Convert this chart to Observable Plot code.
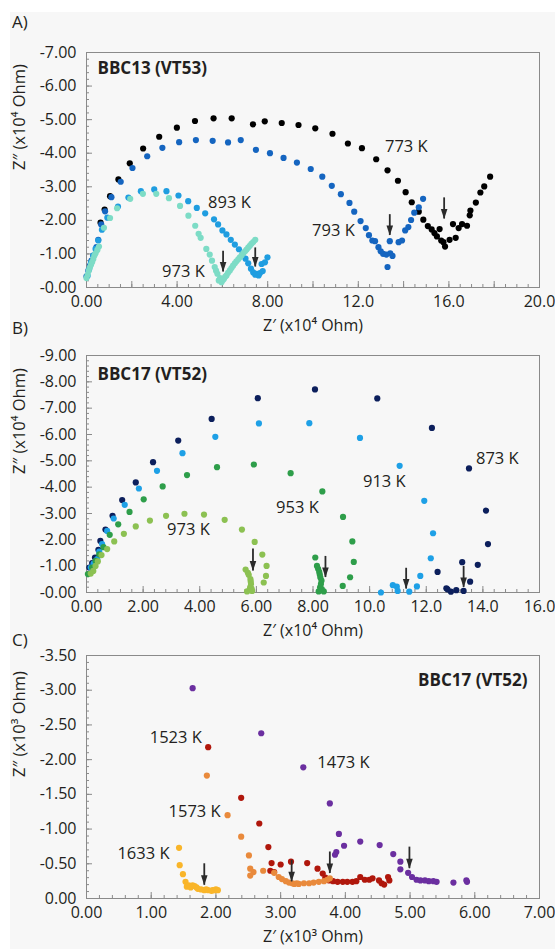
<!DOCTYPE html>
<html><head><meta charset="utf-8">
<script src="https://cdn.jsdelivr.net/npm/d3@7"></script>
<script src="https://cdn.jsdelivr.net/npm/@observablehq/plot@0.6"></script>
<style>
body{margin:0;background:#fff;}
#root{position:relative;width:555px;height:949px;overflow:hidden;font-family:'Open Sans',sans-serif;color:#231f20;}
#bg{position:absolute;left:10px;top:12px;right:0;bottom:0;background:#f7f7f7;}
.pl{position:absolute;left:0;}
.lab{position:absolute;left:12px;font-size:17px;line-height:18px;}
</style></head><body><div id="root"><div id="bg"></div></div>
<script>
// ---------- Panel A: BBC13 (VT53), Z' and -Z'' in x10^4 Ohm ----------
const A_773K = [[0.62,1.93],[0.8,2.32],[1.04,2.72],[1.41,3.22],[1.91,3.70],[2.50,4.14],[3.21,4.49],[3.99,4.76],[4.79,4.96],[5.61,5.04],[6.41,5.04],[7.35,4.86],[7.87,4.95],[8.62,4.90],[9.36,4.84],[10.10,4.74],[10.86,4.58],[11.54,4.29],[12.16,4.15],[12.79,3.82],[13.29,3.49],[13.75,3.18],[14.09,2.84],[14.36,2.54],[14.67,2.26],[14.87,2.02],[15.07,1.83],[15.24,1.73],[15.36,1.62],[15.47,1.52],[15.59,1.74],[15.66,1.40],[15.76,1.35],[15.83,1.22],[16.03,1.42],[16.30,1.48],[16.18,1.89],[16.43,1.77],[16.58,1.89],[16.80,1.84],[16.92,2.15],[16.95,2.29],[17.19,2.53],[17.39,2.83],[17.56,3.01],[17.82,3.30]];
const A_793K = [[0.0,0.33],[0.08,0.5],[0.15,0.65],[0.22,0.8],[0.30,0.95],[0.44,1.20],[0.52,1.42],[0.65,1.88],[0.82,2.27],[1.10,2.69],[1.51,3.15],[2.03,3.56],[2.68,3.91],[3.35,4.16],[4.09,4.33],[4.83,4.39],[5.57,4.37],[6.25,4.32],[6.81,4.39],[7.48,4.10],[8.10,4.00],[8.70,3.86],[9.29,3.72],[9.90,3.53],[10.41,3.30],[10.83,3.03],[11.23,2.78],[11.61,2.52],[11.82,2.26],[12.10,1.98],[12.33,1.77],[12.47,1.56],[12.62,1.40],[12.74,1.38],[12.89,1.20],[12.99,1.08],[13.10,1.00],[13.24,0.98],[13.41,1.02],[13.51,0.94],[13.29,0.61],[13.39,1.38],[13.78,1.35],[13.93,1.40],[14.07,1.70],[14.21,1.80],[14.33,2.01],[14.47,2.23],[14.67,2.39],[14.86,2.64]];
const A_893K = [[0.05,0.35],[0.12,0.55],[0.2,0.75],[0.3,0.95],[0.4,1.15],[0.52,1.4],[0.68,1.72],[0.92,2.08],[1.39,2.41],[1.85,2.68],[2.40,2.87],[2.99,2.92],[3.53,2.87],[4.06,2.74],[4.49,2.57],[4.87,2.37],[5.24,2.21],[5.63,2.03],[5.81,1.88],[6.00,1.70],[6.18,1.58],[6.37,1.42],[6.55,1.28],[6.73,1.14],[6.89,1.00],[7.02,0.86],[7.14,0.72],[7.26,0.56],[7.36,0.45],[7.45,0.38],[7.51,0.41],[7.60,0.36],[7.66,0.43],[7.78,0.49],[7.73,0.70],[7.88,0.75],[7.99,0.90]];
const A_973K = [[0.0,0.28],[0.05,0.38],[0.1,0.5],[0.15,0.6],[0.2,0.68],[0.25,0.76],[0.3,0.85],[0.35,0.95],[0.4,1.02],[0.48,1.12],[0.55,1.22],[0.77,1.78],[1.04,2.07],[1.35,2.36],[1.93,2.64],[2.49,2.79],[3.08,2.79],[3.64,2.66],[4.13,2.43],[4.50,2.14],[4.80,1.84],[4.95,1.60],[5.04,1.48],[5.29,1.15],[5.44,0.98],[5.54,0.80],[5.66,0.61],[5.72,0.5],[5.78,0.41],[5.84,0.21],[5.90,0.28],[5.96,0.16],[6.02,0.22],[6.07,0.26],[6.12,0.32],[6.18,0.36],[6.25,0.44],[6.33,0.51],[6.40,0.58],[6.47,0.65],[6.55,0.72],[6.62,0.78],[6.70,0.84],[6.77,0.90],[6.85,0.96],[6.92,1.02],[7.0,1.08],[7.07,1.13],[7.14,1.19],[7.21,1.24],[7.28,1.30],[7.36,1.35],[7.45,1.42]];
const A_arrows = [[6.03,1.08,0.46],[7.45,1.18,0.61],[13.39,2.17,1.55],[15.79,2.67,2.04]]; // x, top, tip
const A_labels = [{x:14.12,y:4.18,t:"773 K"},{x:6.31,y:2.54,t:"893 K"},{x:4.28,y:0.48,t:"973 K"},{x:10.9,y:1.70,t:"793 K"}];
const A_xTicks = [0,4,8,12,16,20];
const A_yTicks = [0,1,2,3,4,5,6,7];

// ---------- Panel B: BBC17 (VT52), x10^4 Ohm ----------
const B_873K = [[0.1,0.95],[0.2,1.12],[0.3,1.33],[0.42,1.62],[0.49,1.96],[0.67,2.39],[0.92,2.91],[1.26,3.51],[1.74,4.18],[2.35,4.95],[3.24,5.77],[4.42,6.59],[6.05,7.38],[8.07,7.71],[10.27,7.37],[12.20,6.25],[13.51,4.71],[14.11,3.11],[14.18,1.84],[13.82,1.05],[13.55,0.41],[13.27,1.15],[13.32,0.06],[13.06,0.09],[12.87,0.03],[12.75,0.12],[12.71,0.16],[12.40,0.78]];
const B_913K = [[0.15,0.95],[0.25,1.1],[0.38,1.27],[0.45,1.55],[0.55,1.84],[0.73,2.34],[0.96,2.81],[1.35,3.33],[1.85,3.95],[2.49,4.62],[3.39,5.29],[4.55,5.91],[6.09,6.42],[7.87,6.43],[9.66,5.87],[11.06,4.81],[11.93,3.48],[12.24,2.25],[12.16,1.30],[11.79,0.63],[11.67,0.23],[11.40,0.03],[10.96,0.22],[10.82,0.28],[10.99,0.06],[10.40,0.00]];
const B_953K = [[0.05,0.70],[0.2,0.95],[0.32,1.2],[0.45,1.45],[0.6,1.72],[0.82,2.19],[1.12,2.59],[1.52,3.06],[2.02,3.54],[2.69,4.03],[3.55,4.46],[4.61,4.76],[5.91,4.86],[7.21,4.53],[8.33,3.84],[9.06,2.87],[9.39,1.94],[9.44,1.16],[9.31,0.58],[9.05,0.25],[8.08,1.33],[8.14,1.01],[8.18,0.9],[8.22,0.78],[8.24,0.68],[8.26,0.57],[8.3,0.45],[8.28,0.32],[8.25,0.2],[8.31,0.13],[8.38,0.04],[8.20,0.04]];
const B_973K = [[0.15,0.72],[0.24,0.82],[0.32,1.01],[0.40,1.18],[0.53,1.42],[0.73,1.65],[0.98,1.94],[1.32,2.23],[1.74,2.51],[2.24,2.73],[2.81,2.91],[3.46,2.99],[4.15,2.96],[4.88,2.76],[5.49,2.39],[5.94,1.92],[6.21,1.44],[6.36,1.01],[6.34,0.63],[6.26,0.38],[5.62,0.87],[5.70,0.75],[5.73,0.67],[5.79,0.51],[5.80,0.42],[5.81,0.32],[5.78,0.2],[5.83,0.15],[5.76,0.09],[5.67,0.04],[5.85,0.06]];
const B_arrows = [[5.88,1.65,0.82],[8.44,1.37,0.57],[11.29,0.92,0.13],[13.32,0.99,0.19]];
const B_labels = [{x:14.51,y:5.09,t:"873 K"},{x:10.52,y:4.20,t:"913 K"},{x:7.45,y:3.23,t:"953 K"},{x:3.60,y:2.37,t:"973 K"}];
const B_xTicks = [0,2,4,6,8,10,12,14,16];
const B_yTicks = [0,1,2,3,4,5,6,7,8,9];

// ---------- Panel C: BBC17 (VT52), x10^3 Ohm ----------
const C_1473K = [[1.64,3.03],[2.70,2.38],[3.35,1.89],[3.76,1.37],[3.90,0.93],[3.98,0.76],[3.86,0.67],[3.84,0.63],[4.23,0.82],[4.53,0.77],[4.74,0.64],[4.85,0.53],[4.85,0.42],[4.97,0.37],[5.03,0.31],[5.10,0.27],[5.16,0.26],[5.23,0.26],[5.29,0.25],[5.36,0.25],[5.41,0.24],[5.67,0.23],[5.87,0.26],[5.88,0.24]];
const C_1523K = [[1.88,2.18],[2.39,1.45],[2.67,1.08],[2.81,0.74],[2.86,0.51],[3.00,0.49],[3.16,0.53],[2.84,0.40],[2.90,0.38],[3.41,0.51],[3.57,0.43],[3.65,0.36],[3.69,0.30],[3.75,0.26],[3.81,0.25],[3.88,0.24],[3.96,0.24],[4.03,0.24],[4.11,0.24],[4.17,0.25],[4.23,0.31],[4.30,0.27],[4.37,0.27],[4.42,0.29],[4.52,0.26],[4.56,0.22],[4.60,0.20],[4.66,0.31],[4.68,0.26]];
const C_1573K = [[1.86,1.77],[2.18,1.20],[2.39,0.89],[2.51,0.62],[2.53,0.43],[2.58,0.38],[2.53,0.33],[2.73,0.40],[2.90,0.37],[2.97,0.31],[3.02,0.28],[3.08,0.25],[3.13,0.23],[3.18,0.22],[3.21,0.21],[3.25,0.22],[3.28,0.21],[3.36,0.22],[3.44,0.22],[3.51,0.23],[3.59,0.24],[3.67,0.25],[3.72,0.27],[3.76,0.29]];
const C_1633K = [[1.43,0.73],[1.44,0.48],[1.49,0.35],[1.53,0.24],[1.55,0.17],[1.58,0.19],[1.61,0.16],[1.64,0.19],[1.67,0.18],[1.70,0.16],[1.72,0.14],[1.77,0.13],[1.82,0.12],[1.85,0.13],[1.88,0.12],[1.93,0.11],[1.95,0.12],[1.98,0.12],[2.0,0.13],[2.03,0.12]];
const C_arrows = [[1.82,0.50,0.19],[3.17,0.55,0.24],[3.76,0.67,0.36],[4.99,0.74,0.43]];
const C_labels = [{x:1.38,y:2.32,t:"1523 K"},{x:1.67,y:1.25,t:"1573 K"},{x:0.88,y:0.65,t:"1633 K"},{x:3.97,y:1.95,t:"1473 K"}];
const C_xTicks = [0,1,2,3,4,5,6,7];
const C_yTicks = [0,0.5,1,1.5,2,2.5,3,3.5];

const FONT = "'Open Sans', sans-serif";
const INK = "#231f20";
const FRAME = "#8a8a8a";
const ARROW = "#2b2b2b";
const headSymbol = {draw(c){ c.moveTo(0,0); c.lineTo(-3.3,-10); c.lineTo(3.3,-10); c.closePath(); }};

function panel(o){
  const W = 555, ml = 86, mr = 16;
  const H = o.height - o.mt - o.mb, FW = W - ml - mr;
  const marks = [
    Plot.frame({stroke: FRAME}),
    Plot.tickX(d3.range(o.xDomain[0], o.xDomain[1] + 1e-9, o.xMinor), {x: d => d, insetTop: H - 3, stroke: FRAME}),
    Plot.tickX(d3.range(o.xDomain[0], o.xDomain[1] + 1e-9, o.xMajor), {x: d => d, insetTop: H - 6, stroke: FRAME}),
    Plot.tickY(d3.range(o.yDomain[0], o.yDomain[1] + 1e-9, o.yMinor), {y: d => d, insetRight: FW - 3, stroke: FRAME}),
    Plot.tickY(d3.range(o.yDomain[0], o.yDomain[1] + 1e-9, o.yMajor), {y: d => d, insetRight: FW - 6, stroke: FRAME}),
    ...o.series.map(s => Plot.dot(s.data, {x: d => d[0], y: d => d[1], r: 3.1, fill: s.color})),
    Plot.ruleX(o.arrows, {x: d => d[0], y1: d => d[1], y2: d => d[2], stroke: ARROW, strokeWidth: 1.8}),
    Plot.dot(o.arrows, {x: d => d[0], y: d => d[2], symbol: headSymbol, fill: ARROW, stroke: "none"}),
    Plot.text(o.labels, {x: "x", y: "y", text: "t", fontSize: 16.5, fill: INK}),
    Plot.text([o.title], {text: d => d, frameAnchor: o.titleRight ? "top-right" : "top-left", textAnchor: o.titleRight ? "end" : "start", lineAnchor: "middle", dx: o.titleRight ? -12 : 11, dy: o.titleDy, fontWeight: "bold", fontSize: 17, fill: INK}),
    Plot.text([o.xTitle], {text: d => d, frameAnchor: "bottom", dy: 43, fontSize: 16, fill: INK}),
    Plot.text([o.yTitle], {text: d => d, frameAnchor: "left", dx: -67, rotate: -90, fontSize: 16.5, fill: INK})
  ];
  const svg = Plot.plot({
    width: W, height: o.height, marginLeft: ml, marginRight: mr, marginTop: o.mt, marginBottom: o.mb,
    style: {background: "transparent", fontFamily: FONT, fontSize: "16px", color: INK, overflow: "visible"},
    x: {domain: o.xDomain, ticks: o.xTicks, tickFormat: o.xFmt, tickSize: 0, tickPadding: 8, label: null},
    y: {domain: o.yDomain, ticks: o.yTicks, tickFormat: o.yFmt, tickSize: 0, tickPadding: 10, label: null},
    marks
  });
  svg.classList.add("pl");
  svg.style.top = o.top + "px";
  document.getElementById("root").appendChild(svg);
}

const fmtBig = d => d < 10 ? d.toFixed(2) : d.toFixed(1);
const fmtNeg = d => "-" + d.toFixed(2);

panel({top: 0, height: 340, mt: 52, mb: 53, xDomain: [0, 20], yDomain: [0, 7],
  xTicks: A_xTicks, yTicks: A_yTicks, xFmt: fmtBig, yFmt: fmtNeg,
  xMajor: 2, xMinor: 0.5, yMajor: 1, yMinor: 0.2,
  series: [{data: A_773K, color: "#000000"}, {data: A_793K, color: "#1565c0"}, {data: A_893K, color: "#1f9de0"}, {data: A_973K, color: "#7ddcc6"}],
  arrows: A_arrows, labels: A_labels, title: "BBC13 (VT53)", titleRight: false, titleDy: 16,
  xTitle: "Z\u2032 (x10\u2074 Ohm)", yTitle: "Z\u2033 (x10\u2074 Ohm)"});

panel({top: 340, height: 305, mt: 15, mb: 53, xDomain: [0, 16], yDomain: [0, 9],
  xTicks: B_xTicks, yTicks: B_yTicks, xFmt: fmtBig, yFmt: fmtNeg,
  xMajor: 2, xMinor: 0.4, yMajor: 1, yMinor: 0.2,
  series: [{data: B_873K, color: "#0c1f5c"}, {data: B_913K, color: "#1ea0e6"}, {data: B_953K, color: "#2e9e4a"}, {data: B_973K, color: "#8cc152"}],
  arrows: B_arrows, labels: B_labels, title: "BBC17 (VT52)", titleRight: false, titleDy: 19,
  xTitle: "Z\u2032 (x10\u2074 Ohm)", yTitle: "Z\u2033 (x10\u2074 Ohm)"});

panel({top: 645, height: 304, mt: 10, mb: 51, xDomain: [0, 7], yDomain: [0, 3.5],
  xTicks: C_xTicks, yTicks: C_yTicks, xFmt: d => d.toFixed(2), yFmt: d => d === 0 ? "0.00" : "-" + d.toFixed(2),
  xMajor: 1, xMinor: 0.2, yMajor: 0.5, yMinor: 0.1,
  series: [{data: C_1473K, color: "#6b2fa0"}, {data: C_1523K, color: "#b0170c"}, {data: C_1573K, color: "#e98a3c"}, {data: C_1633K, color: "#f9b529"}],
  arrows: C_arrows, labels: C_labels, title: "BBC17 (VT52)", titleRight: true, titleDy: 25,
  xTitle: "Z\u2032 (x10\u00b3 Ohm)", yTitle: "Z\u2033 (x10\u00b3 Ohm)"});

const panelLabels = [["A)", 13], ["B)", 319], ["C)", 631]];
for (const [t, y] of panelLabels) {
  const d = document.createElement("div");
  d.className = "lab"; d.textContent = t; d.style.top = y + "px";
  document.getElementById("root").appendChild(d);
}
</script></body></html>
